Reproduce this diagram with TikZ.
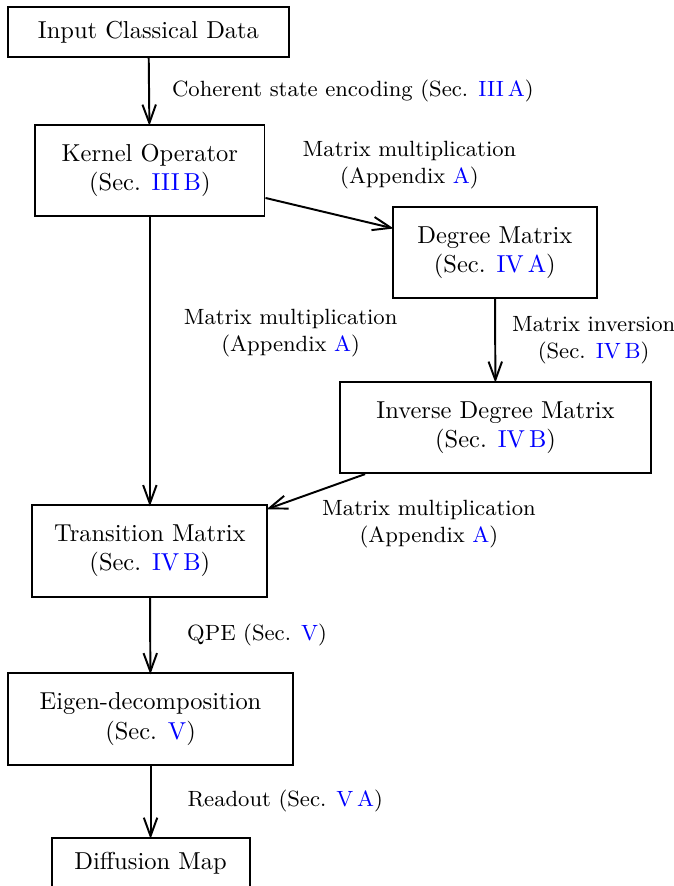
\documentclass[tikz,border=0pt]{standalone}
\usepackage{xcolor}
\usepackage{tikz}
\usetikzlibrary{
  arrows.meta,
  positioning
}
\newcommand{\lnk}[1]{\textcolor{blue}{#1}}

\begin{document}
\begin{tikzpicture}[
    block/.style={
      rectangle,
      draw=black,
      thick,
      minimum height=1.31cm,
      inner sep=2pt,
      align=center
    },
    flow/.style={
      -{Straight Barb[length=7.5pt, width=5.5pt]},
      shorten >=-0.8pt,
      thick
    },
    lbl/.style={
      font=\small,
      align=center
    }
  ]
    \useasboundingbox (0,0) rectangle (9.670,-12.712);

    % ---- Left column ----
    \node[block, minimum width=4.03cm, minimum height=0.72cm] (input) at (2.13, -0.459)  {Input Classical Data};
    \node[block, minimum width=3.29cm] (kernel)     at (2.15, -2.446)  {Kernel Operator\\(Sec. \lnk{III\,B})};
    \node[block, minimum width=3.37cm] (transition) at (2.15, -7.905)  {Transition Matrix\\(Sec. \lnk{IV\,B})};
    \node[block, minimum width=4.09cm] (eigen)      at (2.16, -10.316) {Eigen-decomposition\\(Sec. \lnk{V})};
    \node[block, minimum width=2.84cm, minimum height=0.72cm] (diffmap) at (2.16, -12.382) {Diffusion Map};

    % ---- Right column ----
    \node[block, minimum width=2.93cm] (degree)     at (7.10, -3.623)  {Degree Matrix\\(Sec. \lnk{IV\,A})};
    \node[block, minimum width=4.46cm] (invdegree)  at (7.11, -6.133)  {Inverse Degree Matrix\\(Sec. \lnk{IV\,B})};

    % ---- Encoding ----
    \draw[flow] (input) -- (kernel)
      node[lbl, midway, right=0.2cm] {Coherent state encoding (Sec. \lnk{III\,A})};

    % ---- Kernel -> degree -> inverse ----
    \draw[flow] (kernel) -- (degree)
      node[lbl, midway, xshift=1.16cm, yshift=0.69cm] {Matrix multiplication\\(Appendix \lnk{A})};
    \draw[flow] (degree) -- (invdegree)
      node[lbl, midway, right=0.11cm] {Matrix inversion\\(Sec. \lnk{IV\,B})};

    % ---- Into transition matrix ----
    \draw[flow] (kernel) -- (transition)
      node[lbl, midway, xshift=2.02cm, yshift=0.39cm] {Matrix multiplication\\(Appendix \lnk{A})};
    \draw[flow] (invdegree) -- (transition)
      node[lbl, midway, xshift=1.61cm, yshift=-0.47cm] {Matrix multiplication\\(Appendix \lnk{A})};

    % ---- Eigen-decomposition and readout ----
    \draw[flow] (transition) -- (eigen)
      node[lbl, midway, right=0.4cm] {QPE (Sec. \lnk{V})};
    \draw[flow] (eigen) -- (diffmap)
      node[lbl, midway, right=0.4cm] {Readout (Sec. \lnk{V\,A})};
  \end{tikzpicture}
\end{document}
